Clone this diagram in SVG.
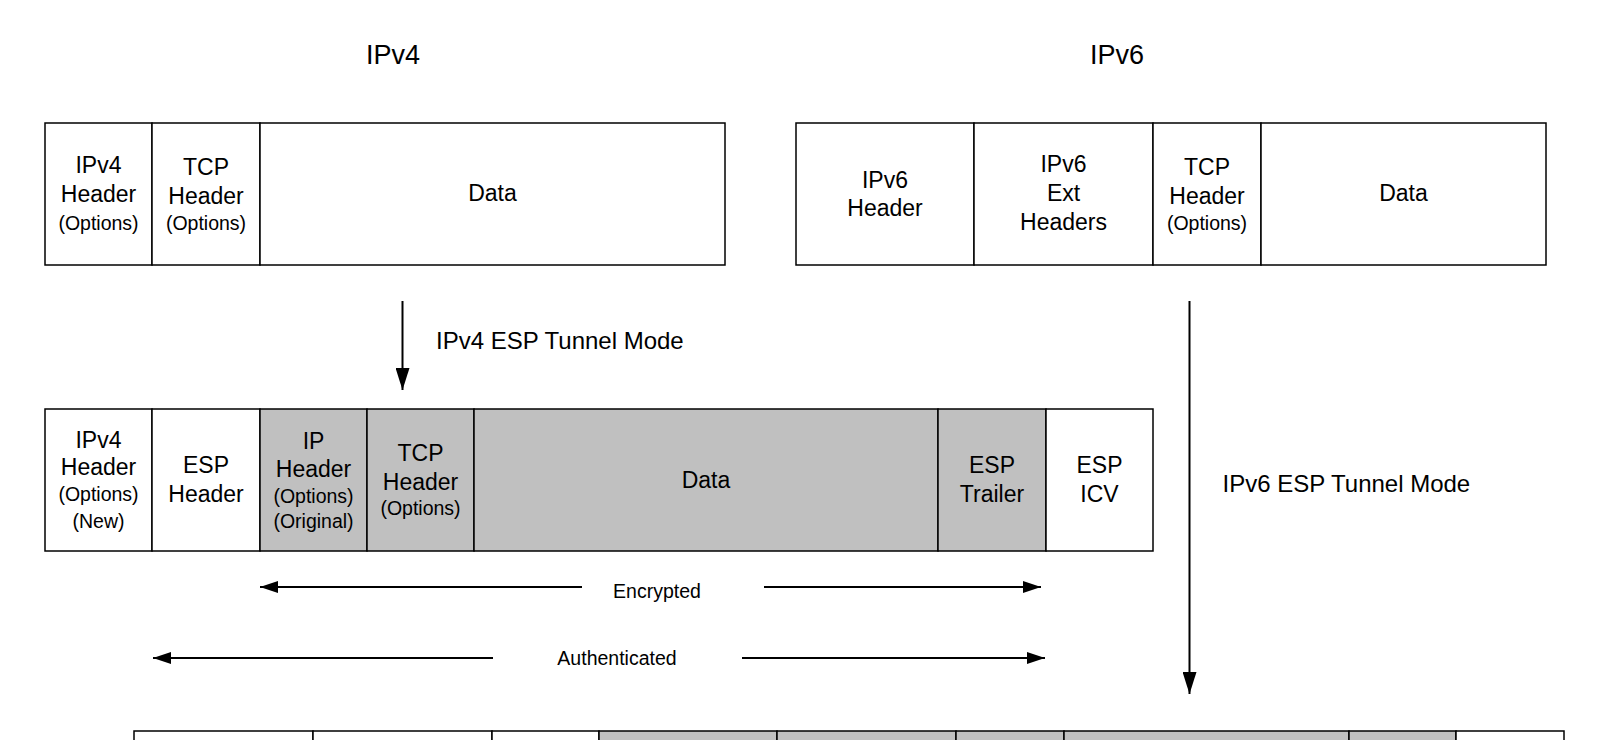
<svg xmlns="http://www.w3.org/2000/svg" width="1610" height="740" viewBox="0 0 1610 740">
<defs>
<style>
.cell{fill:#ffffff;stroke:#000;stroke-width:1.5}
.enc{fill:#c0c0c0;stroke:#000;stroke-width:1.5}
text{font-family:"Liberation Sans",Arial,sans-serif;fill:#000;text-anchor:middle}
.t{font-size:23px}
.s{font-size:19.5px}
.title{font-size:27px}
.lbl{font-size:24px;text-anchor:start}
.small{font-size:19.5px}
.conn{stroke:#000;stroke-width:2;fill:none}
</style>
<marker id="ah" viewBox="0 0 22 14" refX="22" refY="7" markerWidth="22" markerHeight="14" markerUnits="userSpaceOnUse" orient="auto">
<path d="M0,0 L22,7 L0,14 Z" fill="#000"/>
</marker>
<marker id="ahs" viewBox="0 0 18 12" refX="18" refY="6" markerWidth="18" markerHeight="12" markerUnits="userSpaceOnUse" orient="auto">
<path d="M0,0 L18,6 L0,12 Z" fill="#000"/>
</marker>
</defs>
<rect width="1610" height="740" fill="#fff"/>

<g id="titles">
<text class="title" x="393" y="64">IPv4</text>
<text class="title" x="1117" y="64">IPv6</text>
</g>

<g id="ipv4-packet">
<rect class="cell" x="45" y="123" width="107" height="142"/>
<text class="t" x="98.5" y="173">IPv4</text>
<text class="t" x="98.5" y="202">Header</text>
<text class="s" x="98.5" y="230">(Options)</text>
<rect class="cell" x="152" y="123" width="108" height="142"/>
<text class="t" x="206" y="175">TCP</text>
<text class="t" x="206" y="204">Header</text>
<text class="s" x="206" y="230">(Options)</text>
<rect class="cell" x="260" y="123" width="465" height="142"/>
<text class="t" x="492.5" y="201">Data</text>
</g>

<g id="ipv6-packet">
<rect class="cell" x="796" y="123" width="178" height="142"/>
<text class="t" x="885" y="188">IPv6</text>
<text class="t" x="885" y="216">Header</text>
<rect class="cell" x="974" y="123" width="179" height="142"/>
<text class="t" x="1063.5" y="172">IPv6</text>
<text class="t" x="1063.5" y="201">Ext</text>
<text class="t" x="1063.5" y="230">Headers</text>
<rect class="cell" x="1153" y="123" width="108" height="142"/>
<text class="t" x="1207" y="175">TCP</text>
<text class="t" x="1207" y="204">Header</text>
<text class="s" x="1207" y="230">(Options)</text>
<rect class="cell" x="1261" y="123" width="285" height="142"/>
<text class="t" x="1403.5" y="201">Data</text>
</g>

<g id="ipv4-esp-packet">
<rect class="cell" x="45" y="409" width="107" height="142"/>
<text class="t" x="98.5" y="447.5">IPv4</text>
<text class="t" x="98.5" y="475">Header</text>
<text class="s" x="98.5" y="501">(Options)</text>
<text class="s" x="98.5" y="528">(New)</text>
<rect class="cell" x="152" y="409" width="108" height="142"/>
<text class="t" x="206" y="473">ESP</text>
<text class="t" x="206" y="502">Header</text>
<rect class="enc" x="260" y="409" width="107" height="142"/>
<text class="t" x="313.5" y="448.5">IP</text>
<text class="t" x="313.5" y="477">Header</text>
<text class="s" x="313.5" y="503">(Options)</text>
<text class="s" x="313.5" y="527.5">(Original)</text>
<rect class="enc" x="367" y="409" width="107" height="142"/>
<text class="t" x="420.5" y="461">TCP</text>
<text class="t" x="420.5" y="489.5">Header</text>
<text class="s" x="420.5" y="515">(Options)</text>
<rect class="enc" x="474" y="409" width="464" height="142"/>
<text class="t" x="706" y="488">Data</text>
<rect class="enc" x="938" y="409" width="108" height="142"/>
<text class="t" x="992" y="473">ESP</text>
<text class="t" x="992" y="502">Trailer</text>
<rect class="cell" x="1046" y="409" width="107" height="142"/>
<text class="t" x="1099.5" y="473">ESP</text>
<text class="t" x="1099.5" y="502">ICV</text>
</g>

<g id="ipv6-esp-packet">
<rect class="cell" x="134" y="731" width="179" height="142"/>
<rect class="cell" x="313" y="731" width="179" height="142"/>
<rect class="cell" x="492" y="731" width="107" height="142"/>
<rect class="enc" x="599" y="731" width="178" height="142"/>
<rect class="enc" x="777" y="731" width="179" height="142"/>
<rect class="enc" x="956" y="731" width="108" height="142"/>
<rect class="enc" x="1064" y="731" width="285" height="142"/>
<rect class="enc" x="1349" y="731" width="107" height="142"/>
<rect class="cell" x="1456" y="731" width="108" height="142"/>
</g>

<g id="connectors">
<line class="conn" x1="402.5" y1="301" x2="402.5" y2="390" marker-end="url(#ah)"/>
<line class="conn" x1="1189.5" y1="301" x2="1189.5" y2="694" marker-end="url(#ah)"/>
<line class="conn" x1="582" y1="587" x2="260" y2="587" marker-end="url(#ahs)"/>
<line class="conn" x1="764" y1="587" x2="1041" y2="587" marker-end="url(#ahs)"/>
<line class="conn" x1="493" y1="658" x2="153" y2="658" marker-end="url(#ahs)"/>
<line class="conn" x1="742" y1="658" x2="1045" y2="658" marker-end="url(#ahs)"/>
</g>

<g id="labels">
<text class="lbl" x="436" y="349">IPv4 ESP Tunnel Mode</text>
<text class="lbl" x="1222.5" y="492">IPv6 ESP Tunnel Mode</text>
<text class="small" x="657" y="598">Encrypted</text>
<text class="small" x="617" y="665">Authenticated</text>
</g>
</svg>
